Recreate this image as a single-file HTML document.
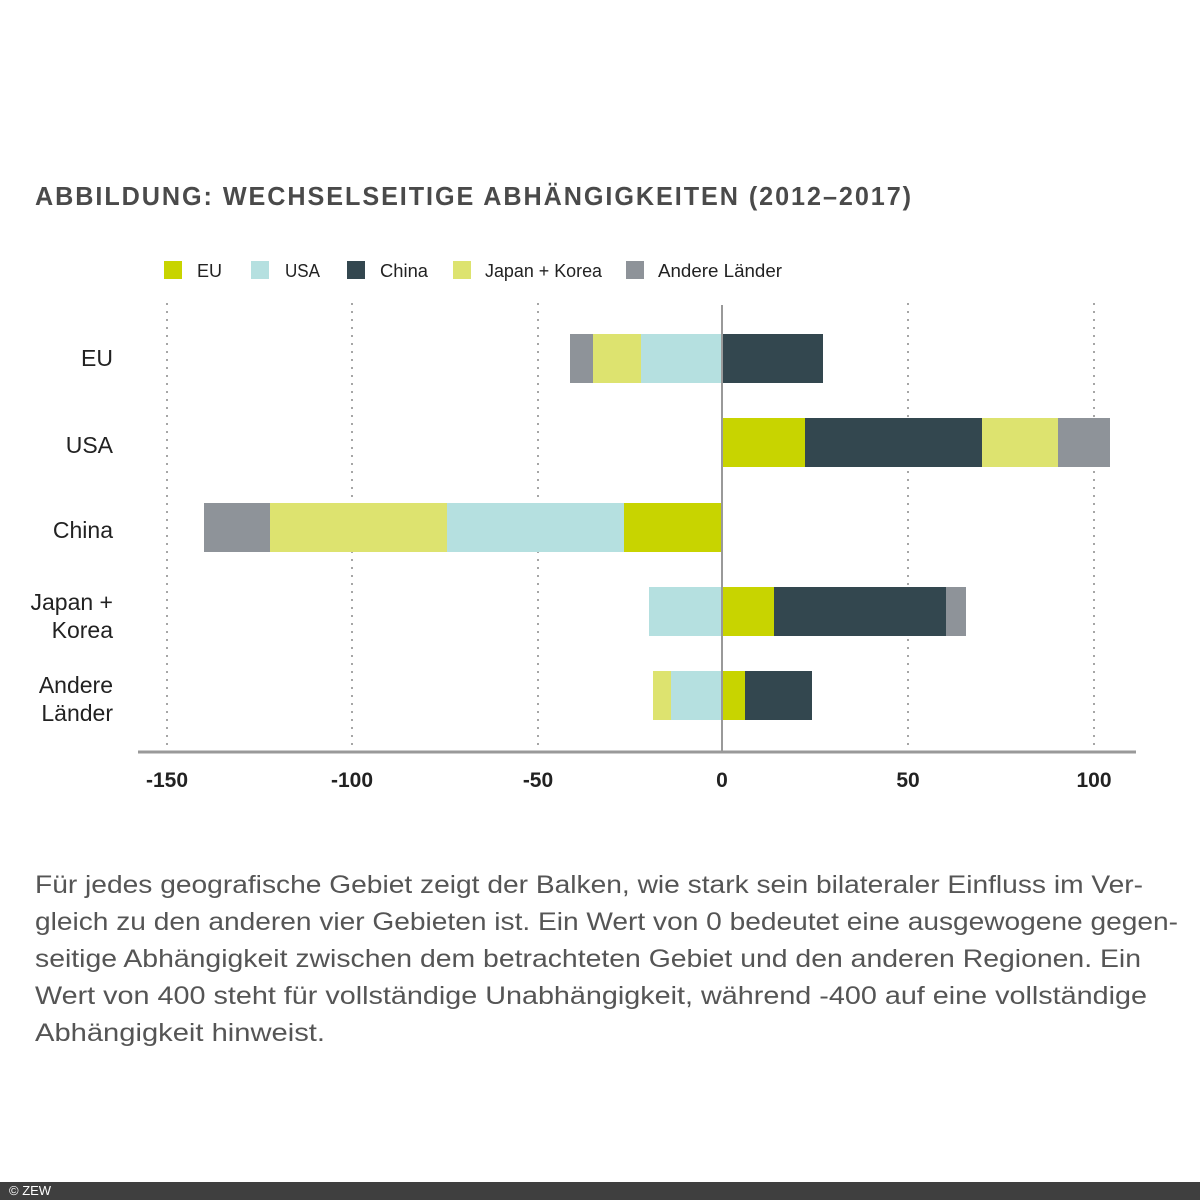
<!DOCTYPE html>
<html><head><meta charset="utf-8"><style>
html,body{margin:0;padding:0;background:#fff;}
body{width:1200px;height:1200px;position:relative;overflow:hidden;font-family:"Liberation Sans",sans-serif;}
svg{position:absolute;left:0;top:0;}
.t{font-family:"Liberation Sans",sans-serif;}
#foot{position:absolute;left:0;top:1182px;width:1200px;height:18px;background:#3f3f3f;color:#fff;font-size:13px;line-height:18px;}
#foot span{margin-left:9px;}
</style></head><body>
<svg width="1200" height="1200" viewBox="0 0 1200 1200">
<text x="35" y="205" class="t" font-size="26" font-weight="bold" fill="#4a4a4a" letter-spacing="2" textLength="878" lengthAdjust="spacingAndGlyphs">ABBILDUNG: WECHSELSEITIGE ABHÄNGIGKEITEN (2012–2017)</text>
<!-- legend -->
<rect x="164" y="261" width="18" height="18" fill="#c8d400"/>
<text x="197" y="277" class="t" font-size="18" fill="#222">EU</text>
<rect x="251" y="261" width="18" height="18" fill="#b5e0e0"/>
<text x="285" y="277" class="t" font-size="18" fill="#222" textLength="35" lengthAdjust="spacingAndGlyphs">USA</text>
<rect x="347" y="261" width="18" height="18" fill="#33474f"/>
<text x="380" y="277" class="t" font-size="18" fill="#222" textLength="48" lengthAdjust="spacingAndGlyphs">China</text>
<rect x="453" y="261" width="18" height="18" fill="#dde36f"/>
<text x="485" y="277" class="t" font-size="18" fill="#222" textLength="117" lengthAdjust="spacingAndGlyphs">Japan + Korea</text>
<rect x="626" y="261" width="18" height="18" fill="#8e9399"/>
<text x="658" y="277" class="t" font-size="18" fill="#222" textLength="124" lengthAdjust="spacingAndGlyphs">Andere Länder</text>
<!-- gridlines -->
<g stroke="#888" stroke-width="1.5" stroke-dasharray="2,6">
<line x1="167" y1="303" x2="167" y2="750"/>
<line x1="352" y1="303" x2="352" y2="750"/>
<line x1="538" y1="303" x2="538" y2="750"/>
<line x1="908" y1="303" x2="908" y2="750"/>
<line x1="1094" y1="303" x2="1094" y2="750"/>
</g>
<!-- bars -->
<g>
<rect x="570" y="334" width="23" height="49" fill="#8e9399"/>
<rect x="593" y="334" width="48" height="49" fill="#dde36f"/>
<rect x="641" y="334" width="81" height="49" fill="#b5e0e0"/>
<rect x="722" y="334" width="101" height="49" fill="#33474f"/>

<rect x="722" y="418" width="83" height="49" fill="#c8d400"/>
<rect x="805" y="418" width="177" height="49" fill="#33474f"/>
<rect x="982" y="418" width="76" height="49" fill="#dde36f"/>
<rect x="1058" y="418" width="52" height="49" fill="#8e9399"/>

<rect x="204" y="503" width="66" height="49" fill="#8e9399"/>
<rect x="270" y="503" width="177" height="49" fill="#dde36f"/>
<rect x="447" y="503" width="177" height="49" fill="#b5e0e0"/>
<rect x="624" y="503" width="98" height="49" fill="#c8d400"/>

<rect x="649" y="587" width="73" height="49" fill="#b5e0e0"/>
<rect x="722" y="587" width="52" height="49" fill="#c8d400"/>
<rect x="774" y="587" width="172" height="49" fill="#33474f"/>
<rect x="946" y="587" width="20" height="49" fill="#8e9399"/>

<rect x="653" y="671" width="18" height="49" fill="#dde36f"/>
<rect x="671" y="671" width="51" height="49" fill="#b5e0e0"/>
<rect x="722" y="671" width="23" height="49" fill="#c8d400"/>
<rect x="745" y="671" width="67" height="49" fill="#33474f"/>
</g>
<line x1="722" y1="305" x2="722" y2="752" stroke="#999" stroke-width="2"/>
<line x1="138" y1="752" x2="1136" y2="752" stroke="#999" stroke-width="3"/>
<!-- y labels -->
<g class="t" font-size="23" fill="#222" text-anchor="end">
<text x="113" y="366">EU</text>
<text x="113" y="453">USA</text>
<text x="113" y="538">China</text>
<text x="113" y="610">Japan +</text>
<text x="113" y="638">Korea</text>
<text x="113" y="693">Andere</text>
<text x="113" y="721">Länder</text>
</g>
<g class="t" font-size="21" font-weight="bold" fill="#222" text-anchor="middle">
<text x="167" y="787">-150</text>
<text x="352" y="787">-100</text>
<text x="538" y="787">-50</text>
<text x="722" y="787">0</text>
<text x="908" y="787">50</text>
<text x="1094" y="787">100</text>
</g>
<g class="t" font-size="25" fill="#555">
<text x="35" y="893" textLength="1108" lengthAdjust="spacingAndGlyphs">Für jedes geografische Gebiet zeigt der Balken, wie stark sein bilateraler Einfluss im Ver-</text>
<text x="35" y="930" textLength="1143" lengthAdjust="spacingAndGlyphs">gleich zu den anderen vier Gebieten ist. Ein Wert von 0 bedeutet eine ausgewogene gegen-</text>
<text x="35" y="967" textLength="1106" lengthAdjust="spacingAndGlyphs">seitige Abhängigkeit zwischen dem betrachteten Gebiet und den anderen Regionen. Ein</text>
<text x="35" y="1004" textLength="1112" lengthAdjust="spacingAndGlyphs">Wert von 400 steht für vollständige Unabhängigkeit, während -400 auf eine vollständige</text>
<text x="35" y="1041" textLength="290" lengthAdjust="spacingAndGlyphs">Abhängigkeit hinweist.</text>
</g>
</svg>
<div id="foot"><span>© ZEW</span></div>
</body></html>
